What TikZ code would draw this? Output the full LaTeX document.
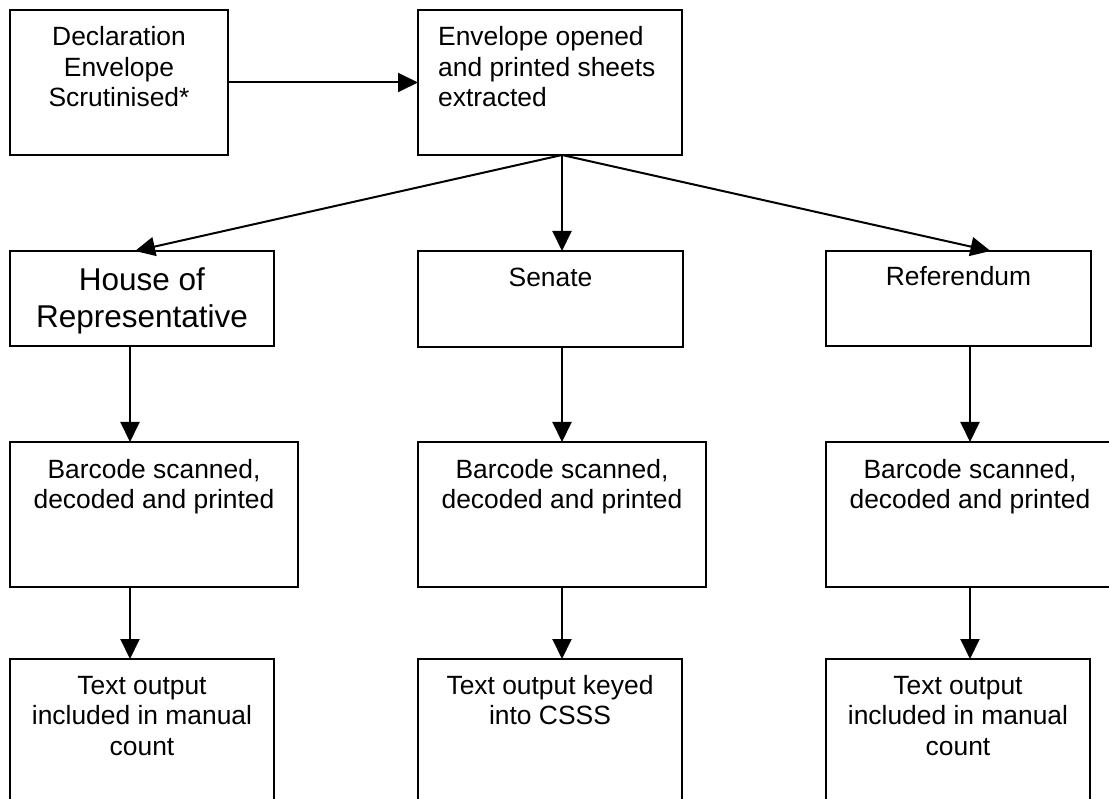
\documentclass[tikz,border=0pt]{standalone}
\usepackage{fontspec}
\setmainfont{Liberation Sans}
\usetikzlibrary{positioning,arrows.meta}

\begin{document}
\begin{tikzpicture}[x=1pt, y=-1pt,
  box/.style={draw, line width=2pt, rectangle, inner sep=0pt, outer sep=0pt, anchor=north west},
  lbl/.style={inner sep=0pt, align=center, anchor=base, font=\fontsize{26.4}{30.5}\selectfont},
  big/.style={font=\fontsize{31.5}{37}\selectfont},
  flow/.style={line width=2pt, -{Triangle[length=20pt, width=19pt]}}]
\useasboundingbox (0,0) rectangle (1109,799);

% top row
\node[box, minimum width=218pt, minimum height=145pt] (decl) at (10,10) {};
\node[box, minimum width=264pt, minimum height=145pt] (env) at (418,10) {};
% chamber row
\node[box, minimum width=264pt, minimum height=95pt] (house) at (10,251) {};
\node[box, minimum width=265pt, minimum height=96pt] (senate) at (418,251) {};
\node[box, minimum width=265pt, minimum height=95pt] (ref) at (826,251) {};
% barcode row
\node[box, minimum width=288pt, minimum height=145pt] (barL) at (10,442) {};
\node[box, minimum width=288pt, minimum height=145pt] (barM) at (418,442) {};
\node[box, minimum width=288pt, minimum height=145pt] (barR) at (826,442) {};
% output row
\node[box, minimum width=264pt, minimum height=146pt] (outL) at (10,659) {};
\node[box, minimum width=264pt, minimum height=146pt] (outM) at (418,659) {};
\node[box, minimum width=264pt, minimum height=146pt] (outR) at (826,659) {};

% labels (base = last line)
\node[lbl] (decl-txt) at ([yshift=-97pt]decl.north) {Declaration\\Envelope\\Scrutinised*};
\node[lbl, align=left, anchor=base west] (env-txt) at ([xshift=20pt, yshift=-97pt]env.north west) {Envelope opened\\and printed sheets\\extracted};
\node[lbl, big] (house-txt) at ([yshift=-77pt]house.north) {House of\\Representative};
\node[lbl] (senate-txt) at ([yshift=-36pt]senate.north) {Senate};
\node[lbl] (ref-txt) at ([yshift=-35pt]ref.north) {Referendum};
\foreach \b in {barL,barM,barR}
  \node[lbl] (\b-txt) at ([yshift=-66.5pt]\b.north) {Barcode scanned,\\decoded and printed};
\node[lbl] (outL-txt) at ([yshift=-96pt]outL.north) {Text output\\included in manual\\count};
\node[lbl] (outM-txt) at ([yshift=-65.5pt]outM.north) {Text output keyed\\into CSSS};
\node[lbl] (outR-txt) at ([yshift=-96pt]outR.north) {Text output\\included in manual\\count};

% connectors
\coordinate (fan) at ([xshift=12pt]env.south);
\draw[flow] (decl.east) -- (env.west);
\draw[flow] (fan) -- ([xshift=-7pt]house.north);
\draw[flow] (fan) -- (fan |- senate.north);
\draw[flow] (fan) -- ([xshift=32pt]ref.north);

\draw[flow] ([xshift=-12pt]house.south) -- ([xshift=-12pt]house.south |- barL.north);
\draw[flow] (barM.north |- senate.south) -- (barM.north);
\draw[flow] (barR.north |- ref.south) -- (barR.north);

\draw[flow] ([xshift=-24pt]barL.south) -- ([xshift=-24pt]barL.south |- outL.north);
\draw[flow] (barM.south) -- (barM.south |- outM.north);
\draw[flow] (barR.south) -- (barR.south |- outR.north);
\end{tikzpicture}
\end{document}
